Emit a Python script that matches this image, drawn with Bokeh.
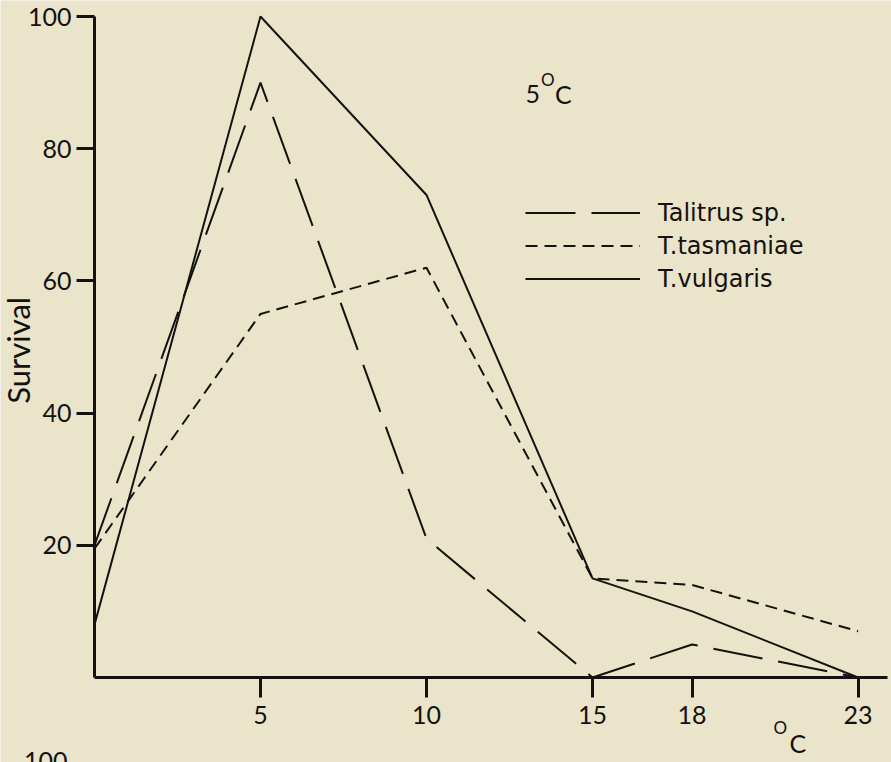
import math
from bokeh.plotting import figure
from bokeh.models import FixedTicker, Legend, LegendItem, Label, Range1d, LinearAxis
from bokeh.embed import file_html
from bokeh.resources import INLINE

# Data
temps = [0, 5, 10, 15, 18, 23]
talitrus = [20, 90, 21, 0, 5, 0]
tasmaniae = [19.5, 55, 62, 15, 14, 7]
vulgaris = [8, 100, 73, 15, 10, 0]
x_ticks = [5, 10, 15, 18, 23]
y_ticks = [20, 40, 60, 80, 100]
series_names = ["Talitrus sp.", "T.tasmaniae", "T.vulgaris"]

BG = "#e9e4ca"
INK = "#141210"

p = figure(width=891, height=762, output_backend="svg", toolbar_location=None,
           x_range=Range1d(-2.831, 24.006), y_range=Range1d(-12.86, 102.42),
           x_axis_location=None, y_axis_location=None,
           min_border_left=0, min_border_right=0, min_border_top=0, min_border_bottom=0)
p.background_fill_color = BG
p.border_fill_color = BG
p.outline_line_color = None
p.grid.visible = False

xax = LinearAxis(fixed_location=0, bounds=(0, 23.9), ticker=FixedTicker(ticks=x_ticks))
yax = LinearAxis(fixed_location=0, bounds=(0, 100), ticker=FixedTicker(ticks=y_ticks))
for ax in (xax, yax):
    ax.axis_line_width = 3
    ax.axis_line_color = INK
    ax.major_tick_line_width = 3
    ax.major_tick_line_color = INK
    ax.minor_tick_line_color = None
    ax.major_tick_in = 0
    ax.major_label_text_font = "Lato"
    ax.major_label_text_font_size = "25px"
    ax.major_label_text_color = INK
xax.major_tick_out = 20
xax.major_label_standoff = 9
yax.major_tick_out = 18
yax.major_label_standoff = 5
p.add_layout(xax, "below")
p.add_layout(yax, "left")

r1 = p.line(temps, talitrus, line_color=INK, line_width=2, line_dash="50 16")
r2 = p.line(temps, tasmaniae, line_color=INK, line_width=2, line_dash="12 7")
r3 = p.line(temps, vulgaris, line_color=INK, line_width=2)

legend = Legend(items=[LegendItem(label=series_names[0], renderers=[r1]),
                       LegendItem(label=series_names[1], renderers=[r2]),
                       LegendItem(label=series_names[2], renderers=[r3])],
                location=(525, 467), glyph_width=115, glyph_height=33,
                label_height=33, label_standoff=18, spacing=0, padding=0, margin=0,
                border_line_color=None, background_fill_alpha=0,
                label_text_font="DejaVu Sans", label_text_font_size="24px",
                label_text_color=INK)
p.add_layout(legend)

# 5°C annotation
p.add_layout(Label(x=12.98, y=88.2, text="5", text_font="Lato", text_font_size="25px",
                   text_color=INK, text_baseline="middle"))
p.add_layout(Label(x=13.45, y=90.5, text="O", text_font="Lato", text_font_size="17px",
                   text_color=INK, text_baseline="middle"))
p.add_layout(Label(x=13.87, y=88.2, text="C", text_font="Lato", text_font_size="25px",
                   text_color=INK, text_baseline="middle"))

# x-axis unit label  °C
p.add_layout(Label(x=20.45, y=-7.5, text="O", text_font="Lato", text_font_size="17px",
                   text_color=INK, text_baseline="middle"))
p.add_layout(Label(x=20.93, y=-9.9, text="C", text_font="Lato", text_font_size="25px",
                   text_color=INK, text_baseline="middle"))

# y-axis label
p.add_layout(Label(x=-2.30, y=49.5, text="Survival", text_font="Lato", text_font_size="31px",
                   text_color=INK, text_align="center", text_baseline="middle",
                   angle=math.pi / 2))

# fragment of the next panel's top tick label, cut by the page edge
p.add_layout(Label(x=-2.12, y=-11.3, text="100", text_font="Lato", text_font_size="25px",
                   text_color=INK, text_baseline="top"))

open("out.html", "w").write(file_html(p, INLINE))
